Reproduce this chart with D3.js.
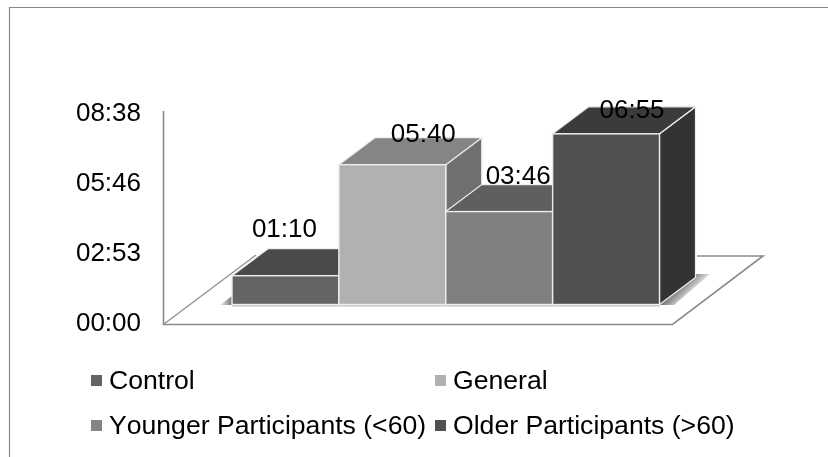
<!DOCTYPE html>
<html><head><meta charset="utf-8">
<script src="https://cdn.jsdelivr.net/npm/d3@7"></script>
<style>html,body{margin:0;padding:0;background:#fff}svg{display:block;filter:blur(0.35px)}text{font-family:"Liberation Sans",Arial,sans-serif;fill:#000;font-kerning:none}</style>
</head><body><script>
const categories = ["Control","General","Younger Participants (<60)","Older Participants (>60)"];
const seconds = [70,340,226,415];
const valueLabels = ["01:10","05:40","03:46","06:55"];
const tickSeconds = [0,173,346,518];
const tickLabels = ["00:00","02:53","05:46","08:38"];
const frontColors = ["#646464","#b1b1b1","#808080","#505050"];
const topColors = ["#4a4a4a","#858585","#5f5f5f","#3b3b3b"];
const sideColors = ["#4a4a4a","#707070","#5f5f5f","#333333"];
const legendColors = ["#646464","#b1b1b1","#858585","#505050"];

const W=828,H=457,dx=36,dy=-27;
const svg=d3.select("body").append("svg").attr("width",W).attr("height",H);
const defs=svg.append("defs");
const g1=defs.append("linearGradient").attr("id","shR").attr("gradientUnits","userSpaceOnUse")
  .attr("x1",679).attr("y1",287).attr("x2",691).attr("y2",299);
g1.append("stop").attr("offset",0).attr("stop-color","#777");g1.append("stop").attr("offset",1).attr("stop-color","#fff");
const g2=defs.append("linearGradient").attr("id","shL").attr("x1",0).attr("x2",1);
g2.append("stop").attr("offset",0).attr("stop-color","#eee");g2.append("stop").attr("offset",1).attr("stop-color","#777");

// chart frame: left and top edges only, the right and bottom are cropped off
svg.append("path").attr("d",`M9.5 ${H}V7.5H${W}`).attr("fill","none").attr("stroke","#888").attr("stroke-width",1.2);

const x=d3.scaleBand().domain(categories).range([232,659.5]).padding(0);
const yBar=d3.scaleLinear().domain([0,518]).range([304.5,91.5]);
const yLabel=d3.scaleLinear().domain([0,518]).range([322.5,112.5]);

// floor and wall
svg.append("path").attr("d","M163.5 111V324.5H672.5L763 256H697").attr("fill","none").attr("stroke","#8a8a8a").attr("stroke-width",1.6);
svg.append("line").attr("x1",164).attr("y1",324).attr("x2",256).attr("y2",255).attr("stroke","#8a8a8a").attr("stroke-width",1.2);
svg.append("line").attr("x1",232).attr("x2",660).attr("y1",305.8).attr("y2",305.8).attr("stroke","#c4c4c4").attr("stroke-width",1.4);

// shadows on floor
svg.append("path").attr("d","M220 305L232 296V305Z").attr("fill","url(#shL)");
svg.append("path").attr("d","M659 305H674L710 274H695Z").attr("fill","url(#shR)");

// axis labels
const axis=d3.axisLeft(yLabel).tickValues(tickSeconds).tickFormat((d,i)=>tickLabels[i]).tickSize(0).tickPadding(0);
const ag=svg.append("g").attr("transform","translate(141,0)").call(axis);
ag.select(".domain").remove();
ag.selectAll("text").style("font-size","26px").style("font-family",'"Liberation Sans",Arial,sans-serif').attr("fill","#000");

// bars
const bars=svg.append("g").selectAll("g").data(categories).join("g");
const stroke="#eeeeee";
bars.each(function(c,i){
  const g=d3.select(this),x0=x(c),x1=x0+x.bandwidth(),yT=yBar(seconds[i]),yB=yBar(0);
  g.append("path").attr("d",`M${x1} ${yT}L${x1+dx} ${yT+dy}V${yB+dy}L${x1} ${yB}Z`).attr("fill",sideColors[i]).attr("stroke",stroke).attr("stroke-width",1.2);
  g.append("path").attr("d",`M${x0} ${yT}L${x0+dx} ${yT+dy}H${x1+dx}L${x1} ${yT}Z`).attr("fill",topColors[i]).attr("stroke",stroke).attr("stroke-width",1.2);
});
bars.each(function(c,i){
  const g=d3.select(this),x0=x(c),yT=yBar(seconds[i]),yB=yBar(0);
  g.append("rect").attr("x",x0).attr("y",yT).attr("width",x.bandwidth()).attr("height",yB-yT).attr("fill",frontColors[i]).attr("stroke",stroke).attr("stroke-width",1.4);
});

// value labels, nudged from each bar's centre and top as in the reference
const labelNudgeX=[-1,31,19,26], labelNudgeY=[-39,-23,-28,-16];
svg.append("g").selectAll("text").data(valueLabels).join("text")
 .attr("x",(d,i)=>x(categories[i])+x.bandwidth()/2+labelNudgeX[i])
 .attr("y",(d,i)=>yBar(seconds[i])+labelNudgeY[i])
 .attr("text-anchor","middle").style("font-size","26px").text(d=>d);

// legend
const lx=[91,435,91,435], ly=[380.5,380.5,425.5,425.5];
const lg=svg.append("g").selectAll("g").data(categories).join("g");
lg.append("rect").attr("x",(d,i)=>lx[i]).attr("y",(d,i)=>ly[i]-5.5).attr("width",11).attr("height",11).attr("fill",(d,i)=>legendColors[i]);
lg.append("text").attr("x",(d,i)=>lx[i]+18).attr("y",(d,i)=>ly[i]+8.5).style("font-size","26.6px").text(d=>d);
</script></body></html>
